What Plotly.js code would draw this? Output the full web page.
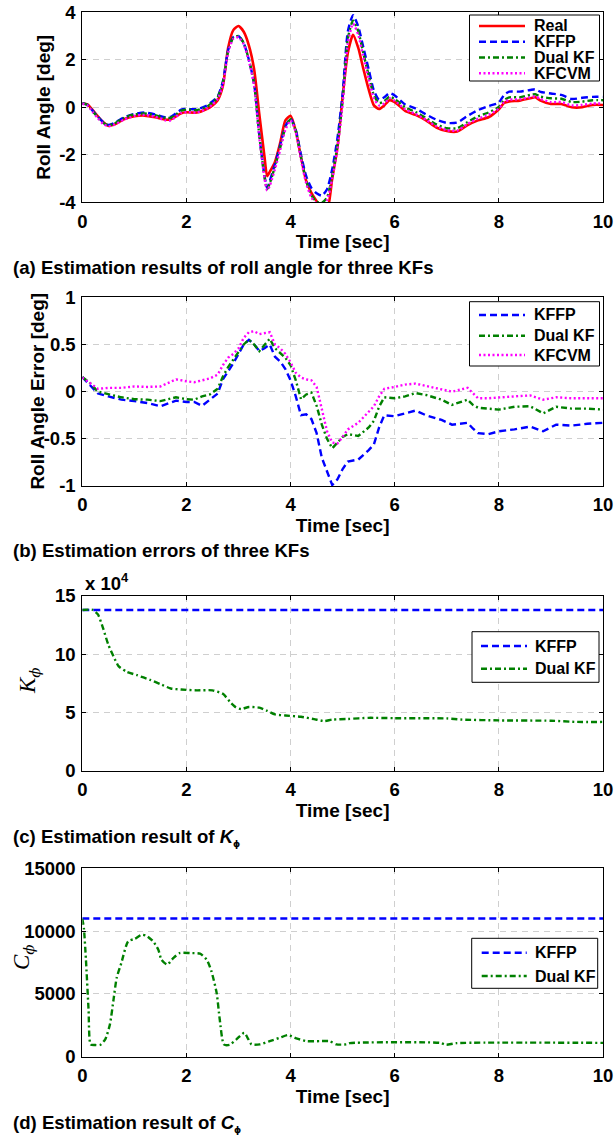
<!DOCTYPE html>
<html>
<head>
<meta charset="utf-8">
<script src="https://cdn.plot.ly/plotly-3.0.1.min.js"></script>
<style>
  html, body { margin: 0; padding: 0; background: #fff; }
  #chart { width: 616px; height: 1138px; }
</style>
</head>
<body>
<div id="chart"></div>
<script>
// ---- (a) roll angle: true value and three Kalman-filter estimates [deg] ----
const timeA = [0, 0.1, 0.2, 0.3, 0.4, 0.5, 0.6,
  0.8, 1.0, 1.2, 1.4, 1.6,
  1.7, 1.8, 1.9, 2.0,
  2.2, 2.4, 2.5, 2.6, 2.7, 2.8, 2.9, 3.0,
  3.1, 3.2, 3.3, 3.4, 3.5, 3.55, 3.6, 3.7, 3.8, 3.9, 4.0,
  4.1, 4.2, 4.3, 4.4, 4.5, 4.6, 4.7, 4.8, 4.9, 5.0,
  5.1, 5.2, 5.3, 5.4, 5.5, 5.6, 5.7, 5.8, 5.9, 6.0,
  6.2, 6.4, 6.6, 6.8, 7.0, 7.2, 7.4, 7.6, 7.8, 8.0,
  8.1, 8.2, 8.4, 8.6, 8.7, 8.8,
  9.0, 9.2, 9.4, 9.6, 9.8, 10.0];
const rollReal = [0.17, 0.12, -0.12, -0.38, -0.62, -0.78, -0.74,
  -0.5, -0.38, -0.35, -0.42, -0.52,
  -0.5, -0.38, -0.25, -0.21,
  -0.22, -0.06, 0.08, 0.3, 0.9, 2.5, 3.25, 3.42,
  3.18, 2.6, 1.6, -0.3, -2.1, -2.9, -2.72, -2.3, -1.5, -0.55, -0.36,
  -1.0, -2.1, -3.1, -3.6, -3.95, -4.3, -4.35, -3.0, -1.7, 0.45,
  2.3, 3.05, 2.5, 1.6, 0.75, 0.08, -0.07, 0.08, 0.3, 0.22,
  -0.15, -0.32, -0.55, -0.85, -1.0, -1.02, -0.75, -0.55, -0.42, -0.08,
  0.18, 0.25, 0.28, 0.38, 0.42, 0.28,
  0.14, 0.14, 0.0, 0.0, 0.1, 0.1];
const rollKFFP = [0.17, 0.1, -0.15, -0.4, -0.62, -0.74, -0.68,
  -0.42, -0.28, -0.22, -0.3, -0.42,
  -0.4, -0.25, -0.1, -0.07,
  -0.08, 0.08, 0.25, 0.45, 1.1, 2.4, 2.95, 3.0,
  2.7, 2.0, 1.0, -1.2, -2.9, -3.4, -3.1, -2.4, -1.6, -0.8, -0.48,
  -0.95, -2.0, -2.9, -3.4, -3.62, -3.72, -3.45, -2.6, -1.3, 0.6,
  3.2, 3.88, 3.4, 2.5, 1.6, 0.7, 0.32, 0.42, 0.6, 0.5,
  0.12, -0.05, -0.3, -0.52, -0.66, -0.64, -0.36, -0.12, 0.05, 0.2,
  0.52, 0.66, 0.66, 0.73, 0.76, 0.65,
  0.58, 0.52, 0.35, 0.4, 0.44, 0.44];
const rollDual = [0.17, 0.1, -0.17, -0.42, -0.65, -0.76, -0.7,
  -0.45, -0.3, -0.26, -0.33, -0.45,
  -0.44, -0.3, -0.14, -0.1,
  -0.12, 0.03, 0.2, 0.42, 1.05, 2.35, 2.93, 3.0,
  2.7, 2.0, 1.0, -1.2, -2.95, -3.45, -3.2, -2.5, -1.7, -0.85, -0.5,
  -1.0, -2.1, -3.1, -3.7, -3.98, -4.02, -3.8, -2.9, -1.6, 0.3,
  2.9, 3.65, 3.2, 2.25, 1.35, 0.5, 0.18, 0.26, 0.45, 0.35,
  0.0, -0.2, -0.45, -0.72, -0.88, -0.88, -0.62, -0.38, -0.22, 0.02,
  0.3, 0.42, 0.42, 0.52, 0.55, 0.45,
  0.38, 0.36, 0.22, 0.24, 0.3, 0.3];
const rollKFCVM = [0.15, 0.08, -0.2, -0.46, -0.7, -0.8, -0.75,
  -0.52, -0.36, -0.32, -0.4, -0.55,
  -0.55, -0.4, -0.24, -0.2,
  -0.22, -0.05, 0.12, 0.35, 0.95, 2.3, 2.88, 2.95,
  2.65, 1.95, 0.9, -1.3, -3.0, -3.5, -3.3, -2.6, -1.8, -0.95, -0.55,
  -1.05, -2.2, -3.2, -3.8, -4.05, -4.08, -3.9, -3.0, -1.75, 0.15,
  2.7, 3.52, 3.05, 2.1, 1.2, 0.38, 0.08, 0.16, 0.38, 0.28,
  -0.08, -0.28, -0.52, -0.8, -0.96, -0.98, -0.7, -0.48, -0.32, -0.05,
  0.22, 0.32, 0.34, 0.42, 0.46, 0.35,
  0.22, 0.22, 0.08, 0.1, 0.16, 0.16];

// ---- (b) roll angle estimation errors [deg] ----
const timeB = [0, 0.15, 0.3, 0.5, 0.75, 1.0, 1.25, 1.5, 1.8, 2.0,
  2.15, 2.3, 2.45, 2.6, 2.7, 2.8, 2.9, 3.0, 3.1, 3.2,
  3.3, 3.4, 3.5, 3.6, 3.7, 3.8, 3.9, 4.0, 4.1, 4.2,
  4.3, 4.4, 4.5, 4.6, 4.7, 4.8, 4.9, 5.0, 5.1, 5.3,
  5.5, 5.6, 5.7, 5.8, 6.0, 6.2, 6.4, 6.6, 6.9, 7.1,
  7.4, 7.5, 7.6, 7.8, 8.0, 8.3, 8.6, 8.85, 9.1, 9.4,
  9.7, 10.0];
const errKFFP = [0.155, 0.07, -0.02, -0.05, -0.085, -0.1, -0.12, -0.155, -0.095, -0.11,
  -0.11, -0.15, -0.085, -0.02, 0.13, 0.21, 0.3, 0.4, 0.5, 0.55,
  0.5, 0.43, 0.46, 0.5, 0.37, 0.32, 0.24, 0.12, -0.05, -0.25,
  -0.24, -0.29, -0.44, -0.7, -0.85, -0.99, -0.93, -0.82, -0.74, -0.72,
  -0.62, -0.56, -0.38, -0.25, -0.26, -0.23, -0.2, -0.25, -0.3, -0.35,
  -0.33, -0.39, -0.44, -0.45, -0.42, -0.4, -0.37, -0.42, -0.35, -0.36,
  -0.34, -0.33];
const errDual = [0.155, 0.09, 0.0, -0.03, -0.06, -0.08, -0.085, -0.1, -0.06, -0.08,
  -0.085, -0.05, -0.03, 0.03, 0.16, 0.26, 0.34, 0.42, 0.5, 0.55,
  0.5, 0.43, 0.5, 0.56, 0.46, 0.41, 0.36, 0.28, 0.12, -0.08,
  -0.03, -0.01, -0.15, -0.35, -0.5, -0.6, -0.54, -0.48, -0.45, -0.47,
  -0.38, -0.31, -0.16, -0.06, -0.07, -0.05, -0.015, -0.035, -0.085, -0.14,
  -0.085, -0.14, -0.17, -0.18, -0.19, -0.16, -0.155, -0.23, -0.16, -0.18,
  -0.18, -0.19];
const errKFCVM = [0.15, 0.09, 0.03, 0.04, 0.04, 0.055, 0.05, 0.055, 0.13, 0.11,
  0.1, 0.12, 0.14, 0.18, 0.28, 0.36, 0.4, 0.46, 0.57, 0.63,
  0.64, 0.61, 0.62, 0.63, 0.5, 0.46, 0.4, 0.31, 0.2, 0.15,
  0.13, 0.12, 0.05, -0.2, -0.42, -0.54, -0.55, -0.48, -0.4, -0.33,
  -0.22, -0.155, -0.05, 0.03, 0.05, 0.075, 0.085, 0.06, 0.02, 0.0,
  0.04, -0.02, -0.07, -0.07, -0.06, -0.05, -0.04, -0.085, -0.06, -0.07,
  -0.07, -0.07];

// ---- (c) roll stiffness K_phi ----
const timeConst = [0, 10];
const stiffKFFP = [137800, 137800];
const timeK = [0, 0.2, 0.3, 0.4, 0.5, 0.6, 0.7, 0.85, 1.05, 1.3,
  1.5, 1.7, 1.9, 2.2, 2.5, 2.7, 2.85, 2.95, 3.05, 3.2,
  3.4, 3.55, 3.7, 3.9, 4.2, 4.45, 4.65, 4.8, 5.1, 5.5,
  6.0, 7.0, 7.3, 8.0, 9.0, 9.5, 10.0];
const stiffDual = [137800, 137800, 134000, 122000, 108000, 98000, 89500, 85000, 82000, 78000,
  74300, 70600, 69700, 69000, 69000, 66000, 58500, 54500, 53000, 54800,
  54200, 51500, 48400, 47500, 46400, 44400, 42700, 44000, 44500, 45500,
  45200, 45000, 44000, 43300, 43000, 42000, 42000];

// ---- (d) roll damping C_phi ----
const dampKFFP = [11000, 11000];
const timeC = [0, 0.03, 0.07, 0.12, 0.16, 0.24, 0.34, 0.44, 0.53, 0.6,
  0.66, 0.75, 0.88, 1.01, 1.14, 1.23, 1.36, 1.46, 1.52, 1.63,
  1.75, 1.87, 2.07, 2.26, 2.39, 2.48, 2.58, 2.64, 2.72, 2.83,
  2.96, 3.11, 3.19, 3.25, 3.41, 3.6, 3.79, 3.95, 4.11, 4.31,
  4.56, 4.75, 4.88, 5.07, 5.14, 6.87, 6.99, 7.19, 10.0];
const dampDual = [10980, 10240, 7720, 3760, 980, 930, 930, 1380, 2570, 4550,
  6270, 7460, 9180, 9390, 9710, 9630, 9180, 8520, 7720, 7330,
  7860, 8250, 8250, 8200, 7720, 6800, 5080, 2960, 980, 950,
  1380, 1900, 1380, 980, 980, 1240, 1510, 1720, 1460, 1240,
  1240, 1240, 980, 980, 1080, 1100, 950, 1080, 1100];

// ---- ticks and labels ----
const timeTicks = [0, 2, 4, 6, 8, 10];
const rollTicks = [-4, -2, 0, 2, 4];
const rollTickText = ['-4', '-2', '0', '2', '4'];
const errTicks = [-1, -0.5, 0, 0.5, 1];
const errTickText = ['-1', '-0.5', '0', '0.5', '1'];
const stiffTicks = [0, 50000, 100000, 150000];
const stiffTickText = ['0', '5', '10', '15'];
const dampTicks = [0, 5000, 10000, 15000];
const dampTickText = ['0', '5000', '10000', '15000'];

const NAME_REAL = 'Real', NAME_KFFP = 'KFFP', NAME_DUAL = 'Dual KF', NAME_KFCVM = 'KFCVM';
const TIME_TITLE = 'Time [sec]';

// ---- line styles ----
const W = 616, H = 1138;
const SANS = 'Liberation Sans, Arial, Helvetica, sans-serif';
const SERIF = 'Liberation Serif, Times New Roman, serif';
const styles = {
  real:  { color: '#ff0000', width: 2.6, dash: 'solid' },
  kffp:  { color: '#0000ff', width: 2.4, dash: '7px,4px' },
  dual:  { color: '#008000', width: 2.4, dash: '6px,3px,2px,3px' },
  kfcvm: { color: '#ff00ff', width: 2.4, dash: '2px,2.5px' },
};

function line(x, y, st, xa, ya, shape) {
  return {
    type: 'scatter', mode: 'lines', x: x, y: y, xaxis: xa, yaxis: ya,
    showlegend: false, hoverinfo: 'skip',
    line: { color: st.color, width: st.width, dash: st.dash, shape: shape || 'linear', smoothing: 0.6 }
  };
}

const traces = [
  line(timeA, rollReal, styles.real, 'x', 'y', 'spline'),
  line(timeA, rollKFFP, styles.kffp, 'x', 'y', 'spline'),
  line(timeA, rollDual, styles.dual, 'x', 'y', 'spline'),
  line(timeA, rollKFCVM, styles.kfcvm, 'x', 'y', 'spline'),
  line(timeB, errKFFP, styles.kffp, 'x2', 'y2'),
  line(timeB, errDual, styles.dual, 'x2', 'y2'),
  line(timeB, errKFCVM, styles.kfcvm, 'x2', 'y2'),
  line(timeConst, stiffKFFP, styles.kffp, 'x3', 'y3'),
  line(timeK, stiffDual, styles.dual, 'x3', 'y3', 'spline'),
  line(timeConst, dampKFFP, styles.kffp, 'x4', 'y4'),
  line(timeC, dampDual, styles.dual, 'x4', 'y4', 'spline'),
];

// pixel -> paper helpers
const px = v => v / W;
const py = v => 1 - v / H;

const plotLeft = 82.3, plotRight = 603;
const panels = [
  { top: 12.3, bottom: 202.3 },
  { top: 297.3, bottom: 486 },
  { top: 595.7, bottom: 771 },
  { top: 868.3, bottom: 1056.7 },
];

const tickFont = { family: SANS, size: 18.5, color: '#000', weight: 'bold' };
const titleFont = { family: SANS, size: 19, color: '#000', weight: 'bold' };
function xAxis(anchor) {
  return {
    domain: [px(plotLeft), px(plotRight)], anchor: anchor, range: [0, 10],
    tickvals: timeTicks, ticktext: timeTicks.map(String),
    showline: true, linecolor: '#000', linewidth: 1, mirror: 'ticks',
    ticks: 'inside', ticklen: 4, tickcolor: '#000',
    showgrid: true, gridcolor: '#cfcfcf', griddash: '6px,5px', gridwidth: 1,
    zeroline: false, tickfont: tickFont, ticklabelstandoff: 2,
    title: { text: TIME_TITLE, font: titleFont, standoff: 2 },
  };
}
function yAxis(i, anchor, range, vals, text, title) {
  const p = panels[i];
  const ax = {
    domain: [py(p.bottom), py(p.top)], anchor: anchor, range: range,
    tickvals: vals, ticktext: text,
    showline: true, linecolor: '#000', linewidth: 1, mirror: 'ticks',
    ticks: 'inside', ticklen: 4, tickcolor: '#000',
    showgrid: true, gridcolor: '#cfcfcf', griddash: '6px,5px', gridwidth: 1,
    zeroline: false, tickfont: tickFont, ticklabelstandoff: 2,
  };
  if (title) ax.title = title;
  return ax;
}

// ---- legends (box, key lines, labels) ----
const shapes = [];
const annotations = [];
function legendBox(box, rows, sampleX, textX, entries) {
  shapes.push({ type: 'rect', xref: 'paper', yref: 'paper', layer: 'above',
    x0: px(box[0]), x1: px(box[1]), y0: py(box[3]), y1: py(box[2]),
    line: { color: '#000', width: 1 }, fillcolor: '#fff' });
  entries.forEach((e, k) => {
    shapes.push({ type: 'line', xref: 'paper', yref: 'paper', layer: 'above',
      x0: px(sampleX[0]), x1: px(sampleX[1]), y0: py(rows[k]), y1: py(rows[k]),
      line: { color: e.st.color, width: e.st.width, dash: e.st.dash } });
    annotations.push({ xref: 'paper', yref: 'paper', x: px(textX), y: py(rows[k]),
      xanchor: 'left', yanchor: 'middle', showarrow: false, text: e.name,
      font: { family: SANS, size: 16, color: '#000', weight: 'bold' } });
  });
}
legendBox([469.5, 599.5, 15, 81], [26, 41.7, 57.5, 73.3], [479, 525], 532,
  [{ name: NAME_REAL, st: styles.real }, { name: NAME_KFFP, st: styles.kffp },
   { name: NAME_DUAL, st: styles.dual }, { name: NAME_KFCVM, st: styles.kfcvm }]);
legendBox([469.5, 599.5, 301.7, 366], [315, 335.7, 355], [479, 525], 532,
  [{ name: NAME_KFFP, st: styles.kffp }, { name: NAME_DUAL, st: styles.dual },
   { name: NAME_KFCVM, st: styles.kfcvm }]);
legendBox([472, 599, 631.7, 682.3], [646, 668.7], [481, 527], 533,
  [{ name: NAME_KFFP, st: styles.kffp }, { name: NAME_DUAL, st: styles.dual }]);
legendBox([471.7, 597.7, 938.3, 988.3], [952.7, 976], [481.7, 526.7], 533,
  [{ name: NAME_KFFP, st: styles.kffp }, { name: NAME_DUAL, st: styles.dual }]);

// ---- symbol axis titles, exponent and captions ----
function label(text, x, y, opts) {
  annotations.push(Object.assign({ xref: 'paper', yref: 'paper', x: px(x), y: py(y),
    xanchor: 'center', yanchor: 'middle', showarrow: false, text: text,
    font: titleFont }, opts || {}));
}
const PHI = '<span style="font-family:DejaVu Serif;font-size:15px">ϕ</span>';
const PHI_SMALL = '<span style="font-family:DejaVu Sans;font-size:9px">ϕ</span>';
const symbolFont = { family: SERIF, size: 23, color: '#000', weight: 'normal' };
// the error title sits closer to its tick labels than a zero standoff allows
label('Roll Angle Error [deg]', 38, 391.6, { textangle: -90 });
label('<i>K</i><sub><i>' + PHI + '</i></sub>', 29, 681, { textangle: -90, font: symbolFont });
label('<i>C</i><sub><i>' + PHI + '</i></sub>', 23, 957, { textangle: -90, font: symbolFont });
label('x 10<sup>4</sup>', 83, 582, { xanchor: 'left', font: tickFont });

const capFont = { family: SANS, size: 18.6, color: '#000', weight: 'bold' };
const capOpts = { xanchor: 'left', font: capFont };
label('(a) Estimation results of roll angle for three KFs', 11, 267, capOpts);
label('(b) Estimation errors of three KFs', 11, 550, capOpts);
label('(c) Estimation result of <i>K</i><sub>' + PHI_SMALL + '</sub>', 11, 837, capOpts);
label('(d) Estimation result of <i>C</i><sub>' + PHI_SMALL + '</sub>', 11, 1123, capOpts);

const layout = {
  width: W, height: H,
  margin: { l: 0, r: 0, t: 0, b: 0 },
  paper_bgcolor: '#fff', plot_bgcolor: '#fff',
  showlegend: false,
  xaxis: xAxis('y'),
  xaxis2: xAxis('y2'),
  xaxis3: xAxis('y3'),
  xaxis4: xAxis('y4'),
  yaxis: yAxis(0, 'x', [-4, 4], rollTicks, rollTickText,
    { text: 'Roll Angle [deg]', font: titleFont, standoff: 3 }),
  yaxis2: yAxis(1, 'x2', [-1, 1], errTicks, errTickText),
  yaxis3: yAxis(2, 'x3', [0, 150000], stiffTicks, stiffTickText),
  yaxis4: yAxis(3, 'x4', [0, 15000], dampTicks, dampTickText),
  shapes: shapes,
  annotations: annotations,
};

Plotly.newPlot('chart', traces, layout, { staticPlot: true, displayModeBar: false });
</script>
</body>
</html>
